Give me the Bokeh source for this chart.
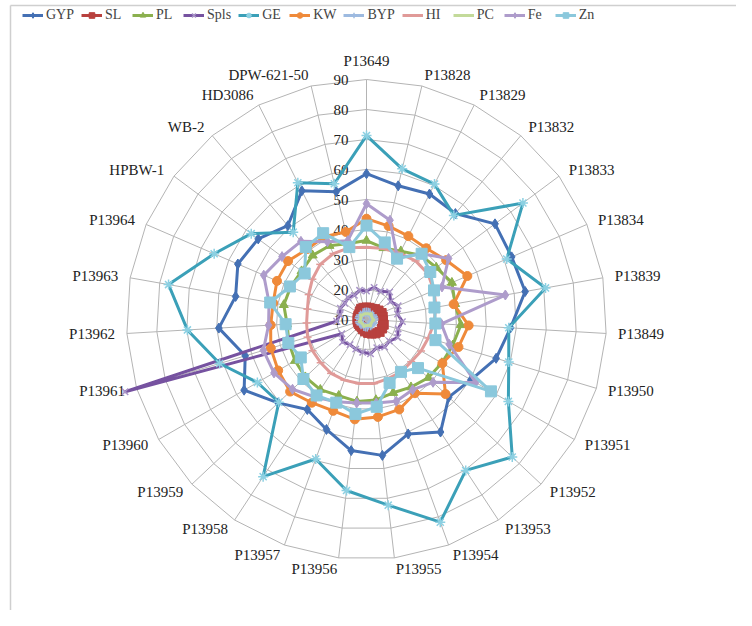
import numpy as np
from bokeh.plotting import figure
from bokeh.models import Range1d, Legend, LegendItem
from bokeh.embed import file_html
from bokeh.resources import INLINE

categories = ["P13649", "P13828", "P13829", "P13832", "P13833", "P13834", "P13839",
              "P13849", "P13950", "P13951", "P13952", "P13953", "P13954", "P13955",
              "P13956", "P13957", "P13958", "P13959", "P13960", "P13961", "P13962",
              "P13963", "P13964", "HPBW-1", "WB-2", "HD3086", "DPW-621-50"]

gyp = [58.6, 55.8, 56.8, 56.1, 63.4, 62.7, 63.7, 58.1, 55.1, 50.2, 47.7, 54.9, 50.6, 55.6,
       54.0, 49.0, 45.9, 50.5, 57.1, 52.2, 59.3, 54.3, 56.7, 55.0, 50.8, 58.0, 53.8]
sl = [14.0, 14.0, 14.0, 14.5, 15.0, 15.5, 15.5, 15.5, 16.0, 16.0, 16.0, 15.5, 15.0, 14.5,
      14.0, 13.5, 13.0, 13.0, 13.0, 13.0, 13.0, 13.0, 13.0, 13.0, 13.5, 14.0, 14.0]
pl = [36.3, 34.5, 35.5, 38.0, 39.0, 41.0, 40.0, 41.5, 40.0, 39.0, 38.3, 37.0, 36.0, 37.0,
      37.5, 37.0, 38.0, 38.0, 37.5, 37.0, 36.5, 38.0, 37.5, 37.0, 37.9, 37.5, 36.0]
spls = [19.5, 21.0, 20.5, 22.0, 20.0, 21.5, 20.5, 22.0, 21.0, 22.0, 20.5, 21.0, 20.0, 21.5,
        21.0, 20.5, 20.0, 21.0, 19.5, 94.0, 20.0, 19.0, 19.5, 19.0, 19.5, 19.0, 20.0]
ge = [71.3, 61.6, 60.5, 55.3, 75.0, 60.9, 70.6, 57.5, 59.5, 64.6, 76.8, 70.2, 81.9, 72.3,
      67.4, 59.5, 72.7, 50.2, 52.0, 61.1, 69.8, 77.0, 65.3, 57.9, 48.0, 61.0, 56.5]
kw = [43.6, 42.0, 41.1, 41.0, 43.1, 46.6, 39.5, 44.1, 42.0, 39.2, 46.2, 39.4, 41.9, 42.7,
      43.5, 42.4, 43.2, 45.0, 44.0, 43.3, 42.0, 41.6, 42.5, 42.6, 40.7, 41.0, 40.0]
byp = [12.5, 12.5, 12.5, 12.0, 12.5, 12.5, 12.5, 12.5, 12.0, 12.5, 12.5, 12.5, 12.0, 12.5,
       12.5, 12.5, 12.0, 12.5, 12.5, 12.5, 12.0, 12.5, 12.5, 12.5, 12.0, 12.5, 12.5]
hi = [34.1, 34.3, 34.7, 35.5, 35.5, 34.5, 33.5, 32.5, 31.5, 31.0, 30.5, 31.0, 31.0, 31.5,
      31.5, 31.5, 31.5, 31.0, 30.8, 30.5, 30.0, 30.0, 31.0, 32.5, 34.0, 34.6, 34.6]
pc = [12.0, 12.0, 12.0, 12.5, 12.0, 12.0, 12.0, 12.5, 12.0, 12.0, 12.0, 12.5, 12.0, 12.0,
      12.0, 12.5, 12.0, 12.0, 12.0, 12.5, 12.0, 12.0, 12.0, 12.5, 12.0, 12.0, 12.0]
fe = [48.6, 44.0, 33.0, 38.6, 44.1, 37.4, 57.0, 35.0, 38.8, 52.0, 40.5, 38.0, 39.0, 38.0,
      38.0, 39.2, 41.0, 43.9, 45.6, 45.9, 42.7, 43.0, 47.3, 45.1, 44.0, 39.0, 37.0]
zn = [41.3, 36.4, 32.7, 38.6, 36.5, 34.5, 33.0, 33.0, 34.0, 57.9, 33.6, 30.9, 32.5, 39.3,
      41.7, 39.5, 40.3, 38.9, 35.3, 37.2, 37.0, 42.6, 37.8, 35.7, 41.5, 42.2, 34.8]

ticks = [10, 20, 30, 40, 50, 60, 70, 80, 90]

series = [
    # name, values, line colour, marker, marker fill, marker line, marker size
    ("GYP", gyp, "#4470B4", "diamond", "#4470B4", "#4470B4", 10),
    ("SL", sl, "#B8413E", "square", "#B8413E", "#B8413E", 9),
    ("PL", pl, "#8BB04E", "triangle", "#8BB04E", "#8BB04E", 9),
    ("Spls", spls, "#7652A0", "x", None, "#A995C8", 9),
    ("GE", ge, "#3BA0B8", "asterisk", None, "#8CD0E2", 10),
    ("KW", kw, "#EF8A3A", "circle", "#EF8A3A", "#EF8A3A", 9),
    ("BYP", byp, "#9DBAE0", "cross", None, "#9DBAE0", 9),
    ("HI", hi, "#E09A98", "dash", None, "#E09A98", 8),
    ("PC", pc, "#C3DA9A", None, None, None, 0),
    ("Fe", fe, "#AE9CCB", "diamond", "#AE9CCB", "#AE9CCB", 10),
    ("Zn", zn, "#8BC8DC", "square", "#8BC8DC", "#8BC8DC", 11),
]

W, H = 736, 610
CX, CY = 366, 319          # centre of the radar inside the figure (px)
R = 240                    # radius of the outer ring (px)
VMIN, VMAX = ticks[0], ticks[-1]
FONT = "'Liberation Serif', 'Times New Roman', serif"

n = len(categories)
theta = np.arange(n) * 2 * np.pi / n
s, c = np.sin(theta), np.cos(theta)


def radius(v):
    return (np.asarray(v, dtype=float) - VMIN) / (VMAX - VMIN) * R


p = figure(width=W, height=H, x_range=Range1d(-CX, W - CX), y_range=Range1d(CY - H, CY),
           output_backend="svg", toolbar_location=None, min_border=0)
p.axis.visible = False
p.grid.visible = False
p.outline_line_color = None
p.background_fill_color = "white"

# chart-area border (left and top edges)
p.line([-CX + 10, -CX + 10], [CY - H, CY - 5], line_color="#CFCFCF", line_width=1.5)
p.line([-CX + 10, W - CX], [CY - 5, CY - 5], line_color="#CFCFCF", line_width=1.5)

# grid: rings and spokes
GRID = "#B4B4B4"
for t in ticks[1:]:
    rr = radius(t)
    p.line(list(rr * s) + [rr * s[0]], list(rr * c) + [rr * c[0]],
           line_color=GRID, line_width=1)
p.segment(x0=np.zeros(n), y0=np.zeros(n), x1=R * s, y1=R * c, line_color=GRID, line_width=1)

# tick labels on the vertical axis
p.text(x=[-18] * len(ticks), y=[radius(t) for t in ticks], text=[str(t) for t in ticks],
       text_align="right", text_baseline="middle", text_font={"value": FONT},
       text_font_size="15px", text_color="#222222")

# category labels
lx, ly, la = [], [], []
for i in range(n):
    tx, ty = R * s[i], R * c[i]
    if abs(s[i]) < 0.05:
        lx.append(tx)
        ly.append(ty + (19 if c[i] > 0 else -19))
        la.append("center")
    else:
        lx.append(tx + 12 * s[i])
        ly.append(ty + 11 * c[i])
        la.append("left" if s[i] > 0 else "right")
p.text(x=lx, y=ly, text=categories, text_align=la, text_baseline="middle",
       text_font={"value": FONT}, text_font_size="15px", text_color="#222222")

items = []
for name, vals, col, mk, mfill, mline, msize in series:
    rr = radius(vals)
    xs, ys = rr * s, rr * c
    lr = p.line(list(xs) + [xs[0]], list(ys) + [ys[0]], line_color=col, line_width=3,
                line_join="round")
    rends = [lr]
    if mk is not None:
        sr = p.scatter(xs, ys, marker=mk, size=msize,
                       fill_color=mfill if mfill else None,
                       line_color=mline, line_width=1.5 if mfill is None else 1)
        rends.append(sr)
    items.append(LegendItem(label=name, renderers=rends))

legend = Legend(items=items, orientation="horizontal", location=(22, H - 23),
                label_text_font=FONT, label_text_font_size="14px",
                glyph_width=21, glyph_height=14, label_height=14, label_standoff=3,
                spacing=7, padding=0, margin=0, border_line_color=None,
                background_fill_alpha=0)
p.add_layout(legend)

open("out.html", "w").write(file_html(p, INLINE))
